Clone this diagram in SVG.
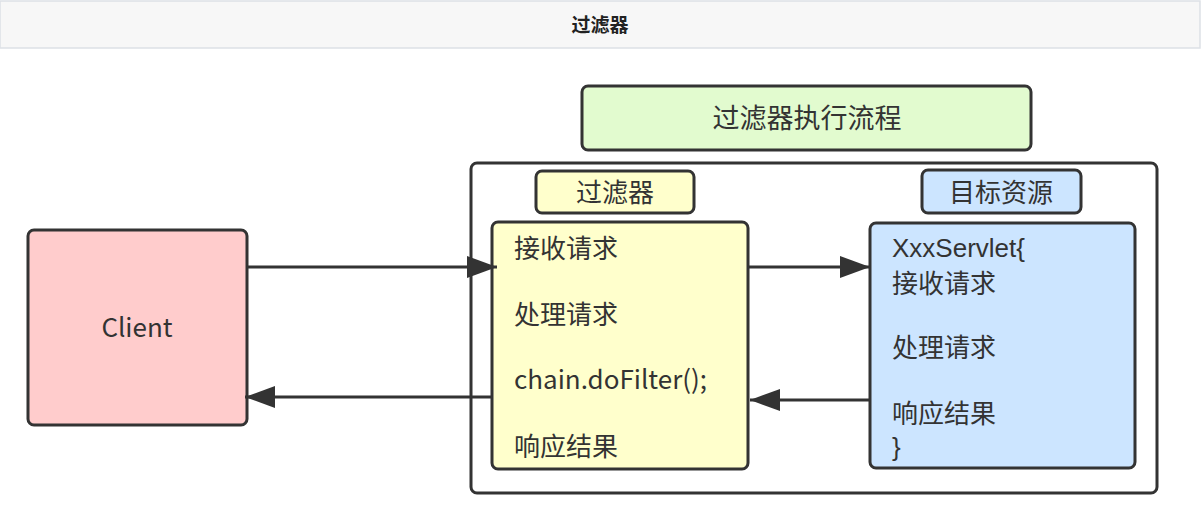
<svg xmlns="http://www.w3.org/2000/svg" width="1202" height="525" viewBox="0 0 1202 525">
<defs>
<marker id="ah" markerWidth="30" markerHeight="22" refX="30" refY="11" orient="auto" markerUnits="userSpaceOnUse">
<path d="M0,0 L30,11 L0,22 Z" fill="#333"/>
</marker>
<style>
.t{font-family:"Noto Sans CJK SC","Noto Sans",sans-serif;fill:#333;font-size:26px}
.lat{font-family:"Liberation Sans",Arial,sans-serif}
.box{stroke:#333;stroke-width:3}
.ln{stroke:#333;stroke-width:3;fill:none}
</style>
</defs>
<rect x="0" y="0" width="1202" height="525" fill="#fff"/>
<g id="header">
<rect x="0" y="1" width="1200" height="47" fill="#f7f7f7" stroke="#dde1e6" stroke-width="1.5"/>
<text x="600" y="32" text-anchor="middle" font-family="Noto Sans CJK SC,sans-serif" font-size="19" font-weight="bold" fill="#222">过滤器</text>
</g>
<g id="title">
<rect class="box" x="582" y="86" width="449" height="64" rx="6" fill="#e2fbcf"/>
<text class="t" x="807" y="128" text-anchor="middle" style="font-size:27px">过滤器执行流程</text>
</g>
<g id="container">
<rect class="box" x="471" y="163" width="686" height="330" rx="6" fill="#fff"/>
</g>
<g id="filterLabel">
<rect class="box" x="536" y="171" width="158" height="42" rx="6" fill="#ffffcc"/>
<text class="t" x="615" y="202" text-anchor="middle">过滤器</text>
</g>
<g id="filter">
<rect class="box" x="492" y="222" width="256" height="247" rx="6" fill="#ffffcc"/>
<text class="t" x="514" y="258">接收请求</text>
<text class="t" x="514" y="324">处理请求</text>
<text class="t" x="514" y="389">chain.doFilter();</text>
<text class="t" x="514" y="456">响应结果</text>
</g>
<g id="targetLabel">
<rect class="box" x="922" y="170" width="159" height="43" rx="6" fill="#cce5ff"/>
<text class="t" x="1001" y="202" text-anchor="middle">目标资源</text>
</g>
<g id="target">
<rect class="box" x="870" y="223" width="265" height="245" rx="6" fill="#cce5ff"/>
<text class="t lat" x="892" y="257">XxxServlet{</text>
<text class="t" x="892" y="293">接收请求</text>
<text class="t" x="892" y="357">处理请求</text>
<text class="t" x="892" y="423">响应结果</text>
<text class="t lat" x="892" y="456">}</text>
</g>
<g id="client">
<rect class="box" x="28" y="230" width="219" height="195" rx="6" fill="#ffcccc"/>
<text class="t" x="137" y="337" text-anchor="middle">Client</text>
</g>
<g id="connectors">
<line class="ln" x1="247" y1="267" x2="497" y2="267" marker-end="url(#ah)"/>
<line class="ln" x1="492" y1="397" x2="245" y2="397" marker-end="url(#ah)"/>
<line class="ln" x1="748" y1="267" x2="870" y2="267" marker-end="url(#ah)"/>
<line class="ln" x1="870" y1="400" x2="750" y2="400" marker-end="url(#ah)"/>
</g>
</svg>
